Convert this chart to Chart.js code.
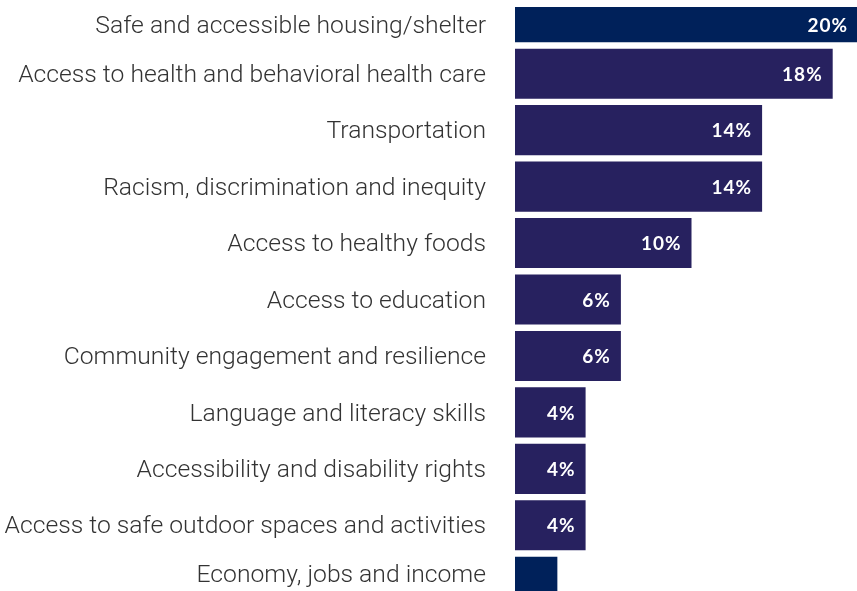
<!DOCTYPE html>
<html>
<head>
<meta charset="utf-8">
<script src="https://cdn.jsdelivr.net/npm/chart.js@4.4.1/dist/chart.umd.min.js"></script>
<style>
  html, body { margin: 0; padding: 0; background: #fff; overflow: hidden; }
  #wrap { position: absolute; left: 0; top: -11px; width: 868px; height: 621px; }
</style>
</head>
<body>
<div id="wrap"><canvas id="IssuesChart"></canvas></div>
<script>
// Share of responses per issue (percent)
const issueLabels = [
  "Safe and accessible housing/shelter",
  "Access to health and behavioral health care",
  "Transportation",
  "Racism, discrimination and inequity",
  "Access to healthy foods",
  "Access to education",
  "Community engagement and resilience",
  "Language and literacy skills",
  "Accessibility and disability rights",
  "Access to safe outdoor spaces and activities",
  "Economy, jobs and income"
];
const issueValues = [20, 18, 14, 14, 10, 6, 6, 4, 4, 4, 2.4];
const valueLabels = ["20%", "18%", "14%", "14%", "10%", "6%", "6%", "4%", "4%", "4%", ""];

const NAVY = '#00215a';
const INDIGO = '#27215f';
const barColors = issueValues.map((v, i) => (i === 0 || i === issueValues.length - 1) ? NAVY : INDIGO);

// bars are trimmed this far inside the chart area at top and bottom
const CLIP_TOP = 18;
const CLIP_BOTTOM = 19;

// middle of the part of a bar that is actually drawn
function visibleMid(chart, bar) {
  const top = Math.max(bar.y - bar.height / 2, chart.chartArea.top + CLIP_TOP);
  const bottom = Math.min(bar.y + bar.height / 2, chart.chartArea.bottom - CLIP_BOTTOM);
  return (top + bottom) / 2;
}

// category names left of the bars and percentages inside the bar ends
const barText = {
  id: 'barText',
  afterDatasetsDraw(chart) {
    const ctx = chart.ctx;
    const meta = chart.getDatasetMeta(0);
    const labelX = chart.chartArea.left - 29;
    ctx.save();
    ctx.textBaseline = 'middle';
    ctx.textAlign = 'right';
    meta.data.forEach((bar, i) => {
      const y = visibleMid(chart, bar);

      ctx.letterSpacing = '0px';
      ctx.font = '300 24.7px Roboto, sans-serif';
      ctx.fillStyle = '#333333';
      ctx.fillText(issueLabels[i], labelX, y + 2);

      if (!valueLabels[i]) return;
      ctx.letterSpacing = '1px';
      ctx.font = 'bold 19px Lato, "Open Sans", sans-serif';
      ctx.fillStyle = '#ffffff';
      let x = Math.min(bar.x - 10, 848);
      ctx.fillText(valueLabels[i], x, y + 1);
    });
    ctx.restore();
  }
};

new Chart(document.getElementById('IssuesChart'), {
  type: 'bar',
  data: {
    labels: issueLabels,
    datasets: [{
      data: issueValues,
      backgroundColor: barColors,
      borderWidth: 0,
      barPercentage: 1,
      categoryPercentage: 0.887,
      clip: { left: false, top: -CLIP_TOP, right: false, bottom: -CLIP_BOTTOM }
    }]
  },
  options: {
    indexAxis: 'y',
    responsive: true,
    maintainAspectRatio: false,
    animation: false,
    layout: { padding: 0 },
    plugins: {
      legend: { display: false },
      tooltip: { enabled: false }
    },
    scales: {
      x: {
        display: false,
        min: 0,
        max: 20
      },
      y: {
        grid: { display: false, drawTicks: false },
        border: { display: false },
        ticks: { display: false },
        afterFit: function (scale) {
          // fixed label column, and no extra room above/below the rows
          scale.width = 515;
          scale.paddingTop = 0;
          scale.paddingBottom = 0;
        }
      }
    }
  },
  plugins: [barText]
});
</script>
</body>
</html>
